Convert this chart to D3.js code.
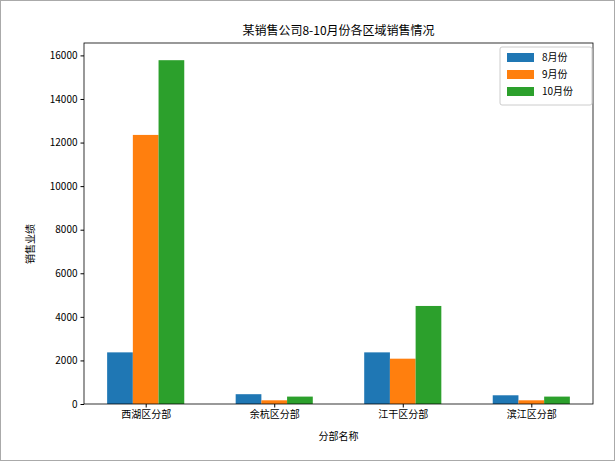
<!DOCTYPE html>
<html><head><meta charset="utf-8">
<script src="https://cdn.jsdelivr.net/npm/d3@7"></script>
<style>body{margin:0;background:#fff}text{font-family:"Noto Sans CJK SC","DejaVu Sans",sans-serif}</style>
</head><body>
<script>
const categories = ["西湖区分部", "余杭区分部", "江干区分部", "滨江区分部"];
const seriesNames = ["8月份", "9月份", "10月份"];
const aug = [2370, 450, 2370, 400];
const sep = [12350, 170, 2080, 170];
const oct = [15780, 340, 4500, 340];
const yTicks = [0, 2000, 4000, 6000, 8000, 10000, 12000, 14000, 16000];
const colors = ["#1f77b4", "#ff7f0e", "#2ca02c"];
const series = [aug, sep, oct];

const W = 615, H = 461;
const m = {left: 84, right: 22, top: 43, bottom: 57};
const svg = d3.select("body").append("svg").attr("width", W).attr("height", H);
svg.append("rect").attr("x", 0.5).attr("y", 0.5).attr("width", W - 1).attr("height", H - 1)
  .attr("fill", "#fff").attr("stroke", "#aaa");

const x = d3.scaleLinear().domain([-0.48, 3.48]).range([m.left, W - m.right]);
const y = d3.scaleLinear().domain([0, 16569]).range([H - m.bottom, m.top]);
const bw = 0.2;

series.forEach((s, i) => {
  svg.append("g").selectAll("rect").data(s).join("rect")
    .attr("x", (d, j) => x(j - 0.3 + i * bw))
    .attr("width", x(bw) - x(0))
    .attr("y", d => y(d))
    .attr("height", d => y(0) - y(d))
    .attr("fill", colors[i]);
});

const xa = svg.append("g").attr("transform", `translate(0,${H - m.bottom})`)
  .call(d3.axisBottom(x).tickValues([0, 1, 2, 3]).tickFormat(i => categories[i]).tickSizeOuter(0).tickSize(3.5));
const ya = svg.append("g").attr("transform", `translate(${m.left},0)`)
  .call(d3.axisLeft(y).tickValues(yTicks).tickFormat(d3.format("d")).tickSizeOuter(0).tickSize(3.5));
[xa, ya].forEach(a => { a.selectAll("text").attr("font-size", 10).attr("fill", "#000"); a.select(".domain").remove(); });
svg.append("rect").attr("x", m.left).attr("y", m.top).attr("width", W - m.right - m.left)
  .attr("height", H - m.bottom - m.top).attr("fill", "none").attr("stroke", "#000").attr("stroke-width", 0.8);

svg.append("text").attr("x", (m.left + W - m.right) / 2).attr("y", 35).attr("text-anchor", "middle")
  .attr("font-size", 12).text("某销售公司8-10月份各区域销售情况");
svg.append("text").attr("x", (m.left + W - m.right) / 2).attr("y", 440).attr("text-anchor", "middle")
  .attr("font-size", 10).text("分部名称");
svg.append("text").attr("transform", "translate(34,244) rotate(-90)").attr("text-anchor", "middle")
  .attr("font-size", 10).text("销售业绩");

const lg = svg.append("g").attr("transform", "translate(500,47)");
lg.append("rect").attr("width", 92).attr("height", 58).attr("rx", 2).attr("fill", "#fff")
  .attr("stroke", "#ccc");
seriesNames.forEach((n, i) => {
  lg.append("rect").attr("x", 7).attr("y", 6 + i * 17).attr("width", 27).attr("height", 9).attr("fill", colors[i]);
  lg.append("text").attr("x", 42).attr("y", 14 + i * 17).attr("font-size", 10).text(n);
});
</script>
</body></html>
